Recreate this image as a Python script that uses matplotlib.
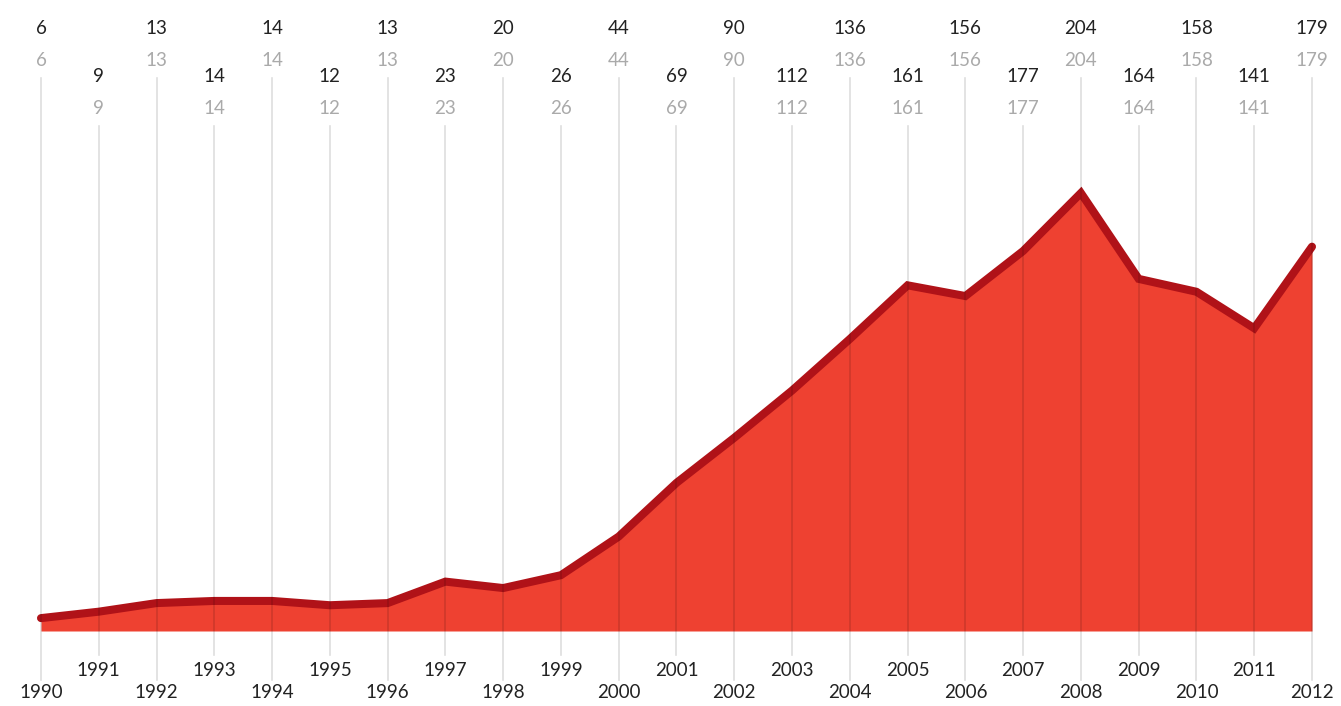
import matplotlib
matplotlib.use("Agg")
import matplotlib.pyplot as plt
import matplotlib.transforms as mtransforms

years = list(range(1990, 2013))
values = [6, 9, 13, 14, 14, 12, 13, 23, 20, 26, 44, 69, 90, 112, 136, 161, 156, 177, 204, 164, 158, 141, 179]

W, H = 1341, 706
fig = plt.figure(figsize=(W / 100, H / 100), dpi=100)
ax = fig.add_axes([0, 0, 1, 1])
ax.set_axis_off()

step = (1312 - 41) / 22
ax.set_xlim(1990 - 41 / step, 2012 + (W - 1312) / step)
scale = (631 - 193) / 204
ax.set_ylim(-(H - 631) / scale, 631 / scale)

# transform: x in data, y in pixels-from-top (as axes fraction)
trans = mtransforms.blended_transform_factory(ax.transData, ax.transAxes)

def fy(ypx):
    return 1 - ypx / H

font = ["Lato", "DejaVu Sans"]

ax.fill_between(years, values, 0, color="#EE4131", linewidth=0, zorder=1)
ax.plot(years, values, color="#B01218", linewidth=5.8, solid_capstyle="round",
        solid_joinstyle="miter", zorder=2)

for i, (yr, v) in enumerate(zip(years, values)):
    even = i % 2 == 0
    top = 78 if even else 126
    bottom = 680 if even else 655
    ax.plot([yr, yr], [fy(top), fy(bottom)], transform=trans, color="black",
            alpha=0.13, linewidth=1.2, zorder=3)
    yb = 28 if even else 76
    yg = 60 if even else 108
    ax.text(yr, fy(yb), str(v), transform=trans, ha="center", va="center",
            fontsize=13.5, color="#222222", family=font)
    ax.text(yr, fy(yg), str(v), transform=trans, ha="center", va="center",
            fontsize=13.5, color="#aaaaaa", family=font)
    yy = 693 if even else 671
    ax.text(yr, fy(yy), str(yr), transform=trans, ha="center", va="center",
            fontsize=13.5, color="#222222", family=font)

fig.savefig("out.png", dpi=100)
